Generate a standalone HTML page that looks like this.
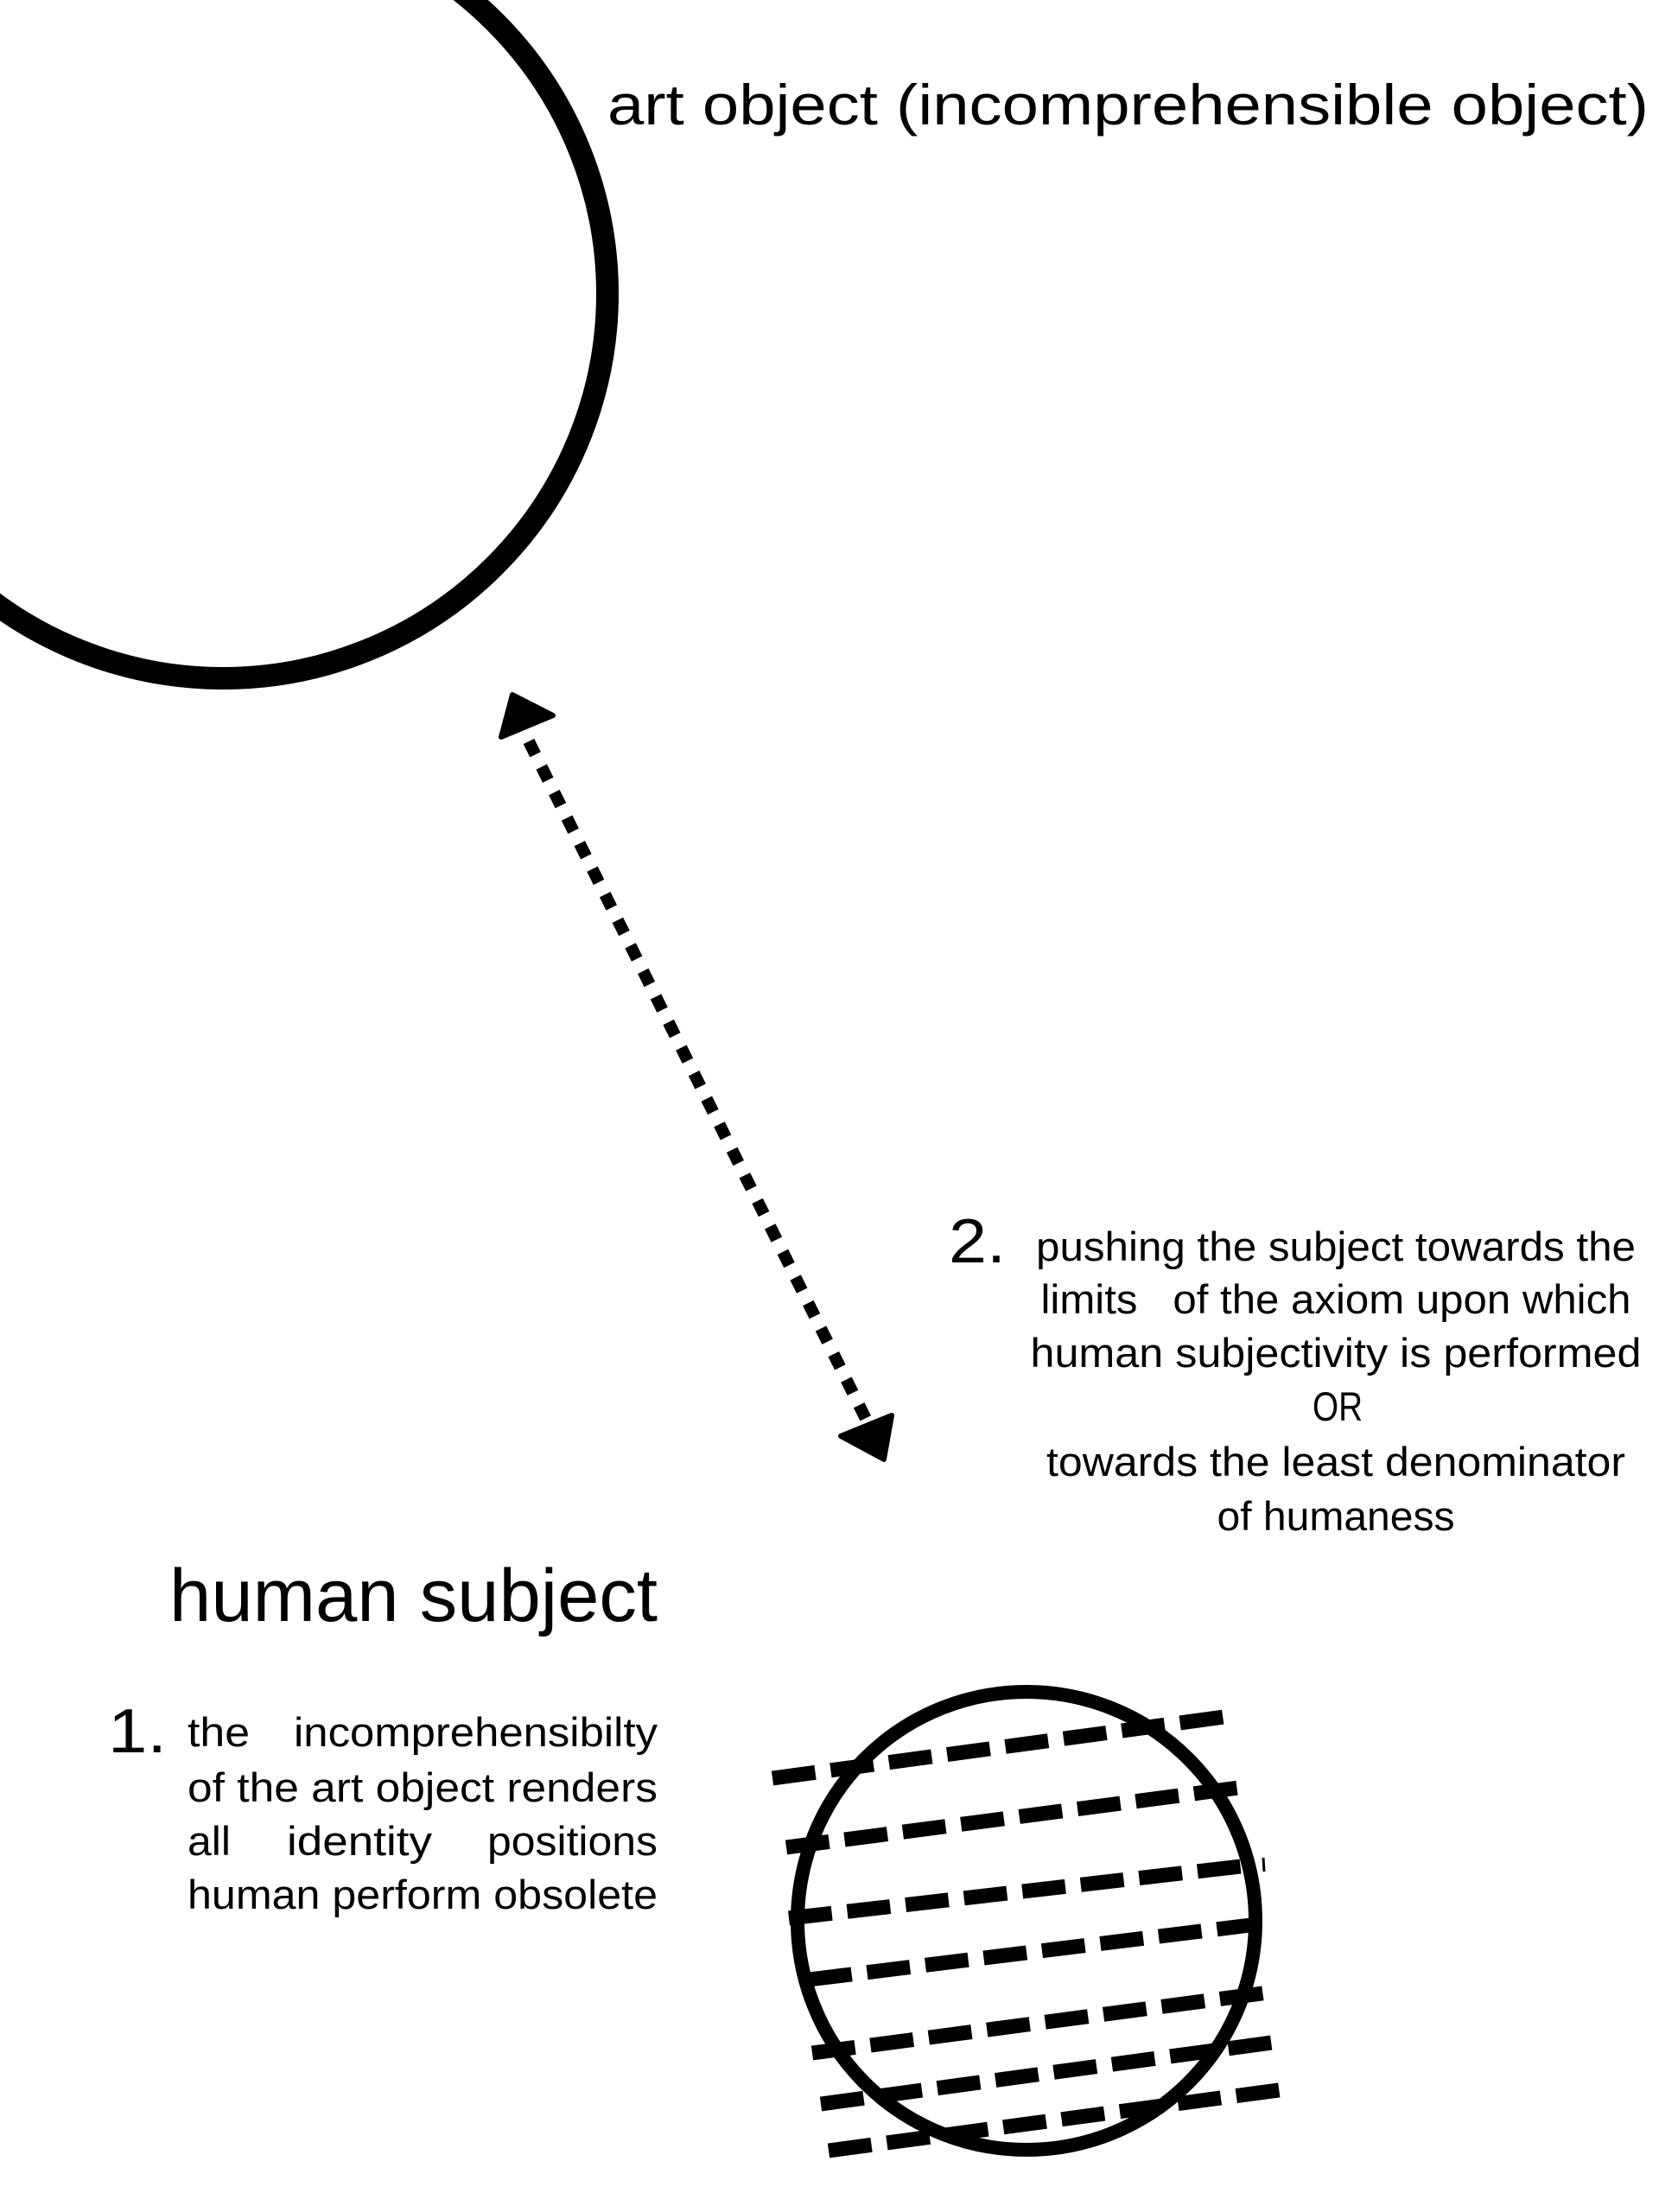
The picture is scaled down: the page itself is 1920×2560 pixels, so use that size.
<!DOCTYPE html>
<html><head><meta charset="utf-8"><style>
html,body{margin:0;padding:0;background:#fff;}
svg{display:block}
text{font-family:"Liberation Sans",sans-serif;fill:#000;}
</style></head><body>
<svg width="1920" height="2560" viewBox="0 0 1920 2560" xmlns="http://www.w3.org/2000/svg">
<rect width="1920" height="2560" fill="#fff"/>
<circle cx="258" cy="340" r="445" fill="none" stroke="#000" stroke-width="26"/>
<text x="703" y="144" font-size="66" textLength="1205" lengthAdjust="spacingAndGlyphs">art object (incomprehensible object)</text>

<line x1="612" y1="858" x2="1002" y2="1642" stroke="#000" stroke-width="14" stroke-dasharray="17 16"/>
<polygon points="580,853 593,804 640,828" fill="#000" stroke="#000" stroke-width="6" stroke-linejoin="round"/>
<polygon points="973,1662 1032,1638 1023,1689" fill="#000" stroke="#000" stroke-width="6" stroke-linejoin="round"/>

<text x="1098" y="1461" font-size="72" textLength="66" lengthAdjust="spacingAndGlyphs">2.</text>
<g font-size="47" text-anchor="middle">
<text x="1546" y="1459" textLength="694" lengthAdjust="spacingAndGlyphs">pushing the subject towards the</text>
<text x="1546" y="1520" textLength="683" lengthAdjust="spacingAndGlyphs" xml:space="preserve">limits   of the axiom upon which</text>
<text x="1546" y="1582" textLength="707" lengthAdjust="spacingAndGlyphs">human subjectivity is performed</text>
<text x="1548" y="1644" textLength="58" lengthAdjust="spacingAndGlyphs">OR</text>
<text x="1546" y="1708" textLength="670" lengthAdjust="spacingAndGlyphs">towards the least denominator</text>
<text x="1546" y="1771" textLength="275" lengthAdjust="spacingAndGlyphs">of humaness</text>
</g>

<text x="196" y="1876" font-size="86" textLength="565" lengthAdjust="spacingAndGlyphs">human subject</text>
<text x="125" y="2028" font-size="72" textLength="68" lengthAdjust="spacingAndGlyphs">1.</text>
<g font-size="47">
<text x="217" y="2021" textLength="72" lengthAdjust="spacingAndGlyphs">the</text>
<text x="340" y="2021" textLength="421" lengthAdjust="spacingAndGlyphs">incomprehensibilty</text>
<text x="217" y="2085" textLength="544" lengthAdjust="spacingAndGlyphs">of the art object renders</text>
<text x="217" y="2147" textLength="50" lengthAdjust="spacingAndGlyphs">all</text>
<text x="332" y="2147" textLength="168" lengthAdjust="spacingAndGlyphs">identity</text>
<text x="564" y="2147" textLength="197" lengthAdjust="spacingAndGlyphs">positions</text>
<text x="217" y="2209" textLength="544" lengthAdjust="spacingAndGlyphs">human perform obsolete</text>
</g>

<circle cx="1188" cy="2223" r="265" fill="none" stroke="#000" stroke-width="16"/>
<g stroke="#000" stroke-width="17" stroke-dasharray="50 18" fill="none">
<line x1="894" y1="2058" x2="1424" y2="1986"/>
<line x1="910" y1="2138" x2="1441" y2="2068"/>
<line x1="913" y1="2220" x2="1445" y2="2159"/>
<line x1="936" y1="2291" x2="1447" y2="2228"/>
<line x1="940" y1="2376" x2="1468" y2="2306"/>
<line x1="950" y1="2435" x2="1479" y2="2363"/>
<line x1="959" y1="2489" x2="1487" y2="2418"/>
</g>
<line x1="1462" y1="2150" x2="1463" y2="2166" stroke="#000" stroke-width="3"/>
</svg>
</body></html>
